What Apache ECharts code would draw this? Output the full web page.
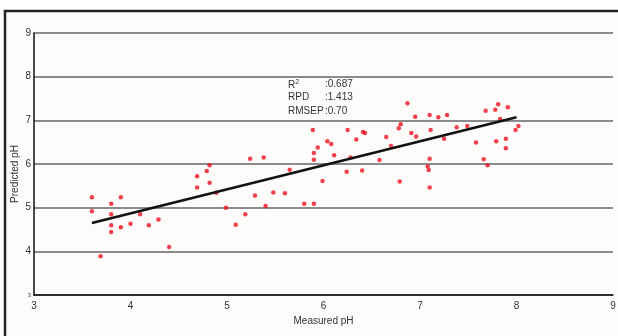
<!DOCTYPE html>
<html>
<head>
<meta charset="utf-8">
<script src="https://cdn.jsdelivr.net/npm/echarts@6/dist/echarts.min.js"></script>
<style>
	html, body { margin: 0; padding: 0; background: #fff; }
	#main { width: 618px; height: 336px; }
</style>
</head>
<body>
<div id="main"></div>
<script>
// measured vs predicted pH
var measured = [3.60, 3.60, 3.69, 3.80, 3.80, 3.80, 3.80, 3.90, 3.90, 4.00, 4.10, 4.19, 4.29, 4.40,
	4.69, 4.69, 4.79, 4.82, 4.82, 4.89, 4.99, 5.09, 5.19, 5.24, 5.29, 5.38, 5.40, 5.48, 5.60, 5.65,
	5.80, 5.89, 5.90, 5.90, 5.90, 5.94, 5.99, 6.04, 6.08, 6.11, 6.24, 6.25, 6.28, 6.34, 6.40, 6.41,
	6.43, 6.58, 6.65, 6.70, 6.78, 6.79, 6.80, 6.87, 6.91, 6.95, 6.96, 7.08, 7.09, 7.10, 7.10, 7.10,
	7.11, 7.19, 7.25, 7.28, 7.38, 7.49, 7.58, 7.66, 7.68, 7.70, 7.78, 7.79, 7.81, 7.83, 7.89, 7.89,
	7.91, 7.99, 8.02];
var predicted = [5.24, 4.92, 3.89, 5.09, 4.85, 4.60, 4.44, 5.24, 4.55, 4.63, 4.85, 4.60, 4.73, 4.10,
	5.72, 5.46, 5.84, 5.97, 5.57, 5.34, 5.00, 4.61, 4.85, 6.12, 5.28, 6.15, 5.04, 5.35, 5.33, 5.87,
	5.09, 6.78, 5.09, 6.10, 6.25, 6.38, 5.61, 6.52, 6.46, 6.20, 5.82, 6.78, 6.15, 6.56, 5.85, 6.73,
	6.71, 6.09, 6.62, 6.41, 6.82, 5.60, 6.91, 7.39, 6.71, 7.08, 6.63, 5.95, 5.86, 7.12, 6.12, 5.46,
	6.78, 7.07, 6.58, 7.12, 6.84, 6.87, 6.49, 6.11, 7.22, 5.97, 7.24, 6.52, 7.37, 7.03, 6.58, 6.36,
	7.30, 6.78, 6.87];
// fitted line end points
var fitX = [3.6, 8.0];
var fitY = [4.65, 7.07];
var statNames = ['R', 'RPD', 'RMSEP'];
var statValues = [':0.687', ':1.413', ':0.70'];

function setChart() {
	var chart = echarts.init(document.getElementById('main'), null, { renderer: 'canvas' });

	var points = measured.map(function(x, i) { return [x, predicted[i]]; });
	var fit = fitX.map(function(x, i) { return [x, fitY[i]]; });

	var font = '"Liberation Sans", Arial, sans-serif';
	var stats = [];
	statNames.forEach(function(n, i) {
		stats.push({
			type: 'text', left: 288, top: 79 + i * 13.5, z: 10,
			style: {
				text: i === 0 ? 'R{s|2}' : n,
				font: '10px ' + font, fill: '#333',
				rich: { s: { fontSize: 7, verticalAlign: 'top', padding: [0, 0, 5, 0] } }
			}
		});
		stats.push({
			type: 'text', left: 325, top: 79 + i * 13.5, z: 10,
			style: { text: statValues[i], font: '10px ' + font, fill: '#333' }
		});
	});

	var option = {
		backgroundColor: '#fff',
		animation: false,
		textStyle: { fontFamily: font },
		grid: { left: 34, right: 5, top: 33, bottom: 41, outerBoundsMode: 'none', containLabel: false },
		graphic: [{
			// outer frame
			type: 'rect', z: -10, silent: true,
			shape: { x: 5, y: 11, width: 630, height: 340 },
			style: { fill: '#fdfcfa', stroke: '#222', lineWidth: 2.5 }
		}, {
			// y axis title
			type: 'text', x: 15, y: 174, rotation: Math.PI / 2, z: 10,
			style: { text: 'Predicted pH', font: '10px ' + font, fill: '#333', align: 'center', verticalAlign: 'middle' }
		}].concat(stats),
		xAxis: {
			type: 'value', min: 3, max: 9, interval: 1,
			name: 'Measured pH', nameLocation: 'middle', nameGap: 17,
			nameTextStyle: { fontSize: 10, color: '#333' },
			axisLine: { lineStyle: { color: '#111', width: 1.5 } },
			axisTick: { show: false },
			axisLabel: { fontSize: 10, color: '#333', margin: 6 },
			splitLine: { show: false }
		},
		yAxis: {
			type: 'value', min: 3, max: 9, interval: 1,
			axisLine: { show: true, lineStyle: { color: '#111', width: 1.5 } },
			axisTick: { show: false },
			axisLabel: {
				fontSize: 10, color: '#333', margin: 3,
				formatter: function(v) { return v === 3 ? '{s|3}' : v; },
				rich: { s: { fontSize: 6, color: '#333' } }
			},
			splitLine: { show: true, lineStyle: { color: '#666', width: 1.5 } }
		},
		series: [{
			type: 'scatter',
			data: points,
			symbol: 'circle',
			symbolSize: 4.5,
			itemStyle: { color: '#ee1122' }
		}, {
			type: 'line',
			data: fit,
			symbol: 'none',
			lineStyle: { color: '#111', width: 2.5 },
			z: 3
		}]
	};
	chart.setOption(option);
}
setChart();
</script>
</body>
</html>
